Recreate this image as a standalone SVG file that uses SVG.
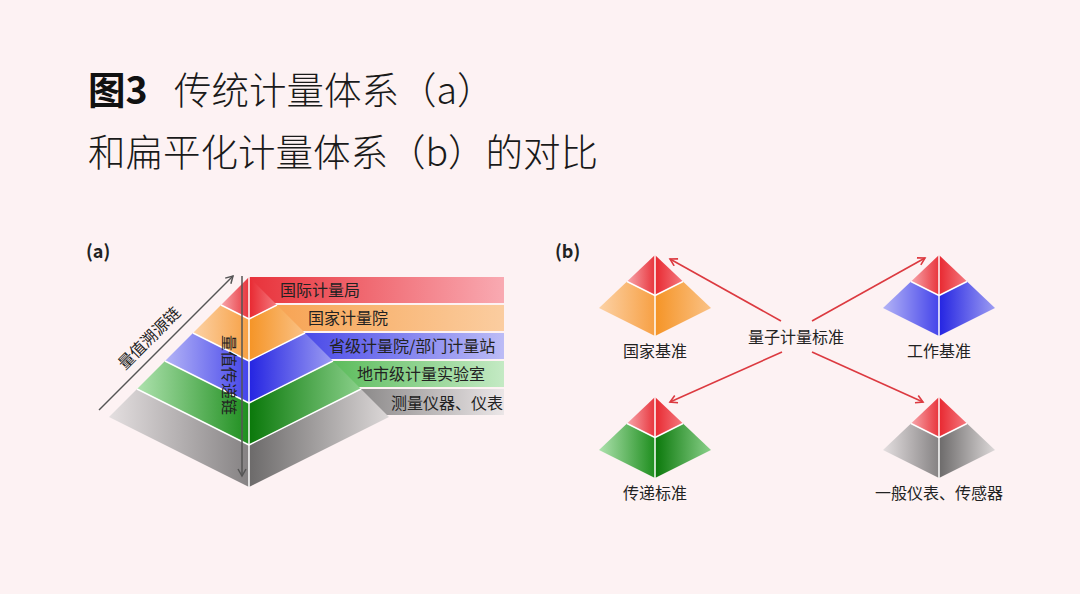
<svg xmlns="http://www.w3.org/2000/svg" width="1080" height="594" viewBox="0 0 1080 594">
<style>
text{font-family:"Noto Sans CJK SC","Noto Sans",sans-serif;fill:#222}
.title{font-size:37.5px;font-weight:300;fill:#1a1a1a}
.lbl{font-size:16px}
.ctr{text-anchor:middle}
.sep{stroke:#fff;stroke-width:1.5;fill:none;stroke-linejoin:round}
.arr{stroke:#555;stroke-width:1.5;fill:none}
.rarr{stroke:#dc3a40;stroke-width:1.6;fill:none}
</style>
<defs>
<marker id="mg" markerUnits="userSpaceOnUse" markerWidth="12" markerHeight="12" refX="8" refY="4.5" orient="auto"><path d="M1,0.5 L8,4.5 L1,8.5" fill="none" stroke="#555" stroke-width="1.5"/></marker>
<marker id="mr" markerUnits="userSpaceOnUse" markerWidth="12" markerHeight="12" refX="8" refY="4.5" orient="auto"><path d="M1,0.5 L8,4.5 L1,8.5" fill="none" stroke="#dc3a40" stroke-width="1.6"/></marker>
<linearGradient id="rL" x1="0" y1="0" x2="1" y2="0"><stop offset="0" stop-color="#f7a6ab"/><stop offset="1" stop-color="#e8343c"/></linearGradient>
<linearGradient id="rR" x1="0" y1="0" x2="1" y2="0"><stop offset="0" stop-color="#e82830"/><stop offset="1" stop-color="#f47a80"/></linearGradient>
<linearGradient id="rB" x1="0" y1="0" x2="1" y2="0"><stop offset="0" stop-color="#e8323a"/><stop offset="1" stop-color="#f9aab2"/></linearGradient>
<linearGradient id="oL" x1="0" y1="0" x2="1" y2="0"><stop offset="0" stop-color="#fcd2a6"/><stop offset="1" stop-color="#f7a044"/></linearGradient>
<linearGradient id="oR" x1="0" y1="0" x2="1" y2="0"><stop offset="0" stop-color="#f59426"/><stop offset="1" stop-color="#fac286"/></linearGradient>
<linearGradient id="oB" x1="0" y1="0" x2="1" y2="0"><stop offset="0" stop-color="#f7a454"/><stop offset="1" stop-color="#fbcda0"/></linearGradient>
<linearGradient id="bL" x1="0" y1="0" x2="1" y2="0"><stop offset="0" stop-color="#b4b4f6"/><stop offset="1" stop-color="#4444ea"/></linearGradient>
<linearGradient id="bR" x1="0" y1="0" x2="1" y2="0"><stop offset="0" stop-color="#2424e2"/><stop offset="1" stop-color="#9c9cf2"/></linearGradient>
<linearGradient id="bB" x1="0" y1="0" x2="1" y2="0"><stop offset="0" stop-color="#4a4ae8"/><stop offset="1" stop-color="#bcbcf6"/></linearGradient>
<linearGradient id="gL" x1="0" y1="0" x2="1" y2="0"><stop offset="0" stop-color="#aee2ae"/><stop offset="1" stop-color="#1e8e1e"/></linearGradient>
<linearGradient id="gR" x1="0" y1="0" x2="1" y2="0"><stop offset="0" stop-color="#0a780a"/><stop offset="1" stop-color="#8ad08a"/></linearGradient>
<linearGradient id="gB" x1="0" y1="0" x2="1" y2="0"><stop offset="0" stop-color="#5cbc5c"/><stop offset="1" stop-color="#c4eac4"/></linearGradient>
<linearGradient id="yL" x1="0" y1="0" x2="1" y2="0"><stop offset="0" stop-color="#e4dfe0"/><stop offset="1" stop-color="#858283"/></linearGradient>
<linearGradient id="yR" x1="0" y1="0" x2="1" y2="0"><stop offset="0" stop-color="#6c6a6a"/><stop offset="1" stop-color="#dcd8d8"/></linearGradient>
<linearGradient id="yB" x1="0" y1="0" x2="1" y2="0"><stop offset="0" stop-color="#8c8a8a"/><stop offset="1" stop-color="#ebe6e7"/></linearGradient>
</defs>
<rect x="0" y="0" width="1080" height="594" fill="#fdf2f3"/>

<g id="title">
<text class="title" x="88" y="104"><tspan font-weight="700" fill="#111">图3</tspan><tspan x="174">传统计量体系（a）</tspan></text>
<text class="title" x="88" y="166">和扁平化计量体系（b）的对比</text>
</g>

<g id="panel-a">
<text x="86" y="258" font-size="18" font-weight="700">(a)</text>
<g id="banners">
<rect x="249" y="277" width="255" height="26" fill="url(#rB)"/>
<rect x="277" y="305" width="227" height="26" fill="url(#oB)"/>
<rect x="305" y="333" width="199" height="26" fill="url(#bB)"/>
<rect x="333" y="361" width="171" height="26" fill="url(#gB)"/>
<rect x="361" y="389" width="143" height="26" fill="url(#yB)"/>
</g>
<g id="pyramid-a">
<polygon points="249,277 221,305 249,319" fill="url(#rL)"/>
<polygon points="249,277 249,319 277,305" fill="url(#rR)"/>
<polygon points="221,305 193,333 249,361 249,319" fill="url(#oL)"/>
<polygon points="249,319 249,361 305,333 277,305" fill="url(#oR)"/>
<polygon points="193,333 165,361 249,403 249,361" fill="url(#bL)"/>
<polygon points="249,361 249,403 333,361 305,333" fill="url(#bR)"/>
<polygon points="165,361 137,389 249,445 249,403" fill="url(#gL)"/>
<polygon points="249,403 249,445 361,389 333,361" fill="url(#gR)"/>
<polygon points="137,389 109,417 249,487 249,445" fill="url(#yL)"/>
<polygon points="249,445 249,487 389,417 361,389" fill="url(#yR)"/>
<polyline class="sep" points="221,305 249,319 277,305"/>
<polyline class="sep" points="193,333 249,361 305,333"/>
<polyline class="sep" points="165,361 249,403 333,361"/>
<polyline class="sep" points="137,389 249,445 361,389"/>
<line class="sep" x1="249" y1="277" x2="249" y2="487"/>
</g>
<g id="banner-labels">
<text class="lbl" x="280" y="296">国际计量局</text>
<text class="lbl" x="308" y="324">国家计量院</text>
<text class="lbl" x="329" y="352">省级计量院/部门计量站</text>
<text class="lbl" x="357" y="380">地市级计量实验室</text>
<text class="lbl" x="391" y="409">测量仪器、仪表</text>
</g>
<g id="chains">
<line class="arr" x1="99" y1="410" x2="233" y2="276" marker-end="url(#mg)"/>
<line class="arr" x1="242" y1="276" x2="242" y2="476" marker-end="url(#mg)"/>
<text class="lbl ctr" x="149" y="344" transform="rotate(-45 149 338)">量值溯源链</text>
<text class="lbl ctr" x="229" y="381" transform="rotate(90 229 375)">量值传递链</text>
</g>
</g>

<g id="panel-b">
<text x="555" y="258" font-size="18" font-weight="700">(b)</text>
<g id="connectors">
<line class="rarr" x1="781" y1="321" x2="670" y2="259" marker-end="url(#mr)"/>
<line class="rarr" x1="812" y1="321" x2="925" y2="258" marker-end="url(#mr)"/>
<line class="rarr" x1="782" y1="352" x2="670" y2="402" marker-end="url(#mr)"/>
<line class="rarr" x1="812" y1="352" x2="923" y2="402" marker-end="url(#mr)"/>
</g>
<g id="quantum">
<text class="lbl ctr" x="796" y="343">量子计量标准</text>
</g>
<g id="national">
<polygon points="655,255 627,281.5 655,295.5" fill="url(#rL)"/>
<polygon points="655,255 655,295.5 683,281.5" fill="url(#rR)"/>
<polygon points="627,281.5 599,308 655,336 655,295.5" fill="url(#oL)"/>
<polygon points="655,295.5 655,336 711,308 683,281.5" fill="url(#oR)"/>
<polyline class="sep" points="627,281.5 655,295.5 683,281.5"/>
<line class="sep" x1="655" y1="255" x2="655" y2="336"/>
<text class="lbl ctr" x="655" y="357">国家基准</text>
</g>
<g id="working">
<polygon points="939,255 911,281.5 939,295.5" fill="url(#rL)"/>
<polygon points="939,255 939,295.5 967,281.5" fill="url(#rR)"/>
<polygon points="911,281.5 883,308 939,336 939,295.5" fill="url(#bL)"/>
<polygon points="939,295.5 939,336 995,308 967,281.5" fill="url(#bR)"/>
<polyline class="sep" points="911,281.5 939,295.5 967,281.5"/>
<line class="sep" x1="939" y1="255" x2="939" y2="336"/>
<text class="lbl ctr" x="939" y="357">工作基准</text>
</g>
<g id="transfer">
<polygon points="655,397 627,423.5 655,437.5" fill="url(#rL)"/>
<polygon points="655,397 655,437.5 683,423.5" fill="url(#rR)"/>
<polygon points="627,423.5 599,450 655,478 655,437.5" fill="url(#gL)"/>
<polygon points="655,437.5 655,478 711,450 683,423.5" fill="url(#gR)"/>
<polyline class="sep" points="627,423.5 655,437.5 683,423.5"/>
<line class="sep" x1="655" y1="397" x2="655" y2="478"/>
<text class="lbl ctr" x="655" y="499">传递标准</text>
</g>
<g id="instruments">
<polygon points="939,397 911,423.5 939,437.5" fill="url(#rL)"/>
<polygon points="939,397 939,437.5 967,423.5" fill="url(#rR)"/>
<polygon points="911,423.5 883,450 939,478 939,437.5" fill="url(#yL)"/>
<polygon points="939,437.5 939,478 995,450 967,423.5" fill="url(#yR)"/>
<polyline class="sep" points="911,423.5 939,437.5 967,423.5"/>
<line class="sep" x1="939" y1="397" x2="939" y2="478"/>
<text class="lbl ctr" x="939" y="499">一般仪表、传感器</text>
</g>
</g>
</svg>
